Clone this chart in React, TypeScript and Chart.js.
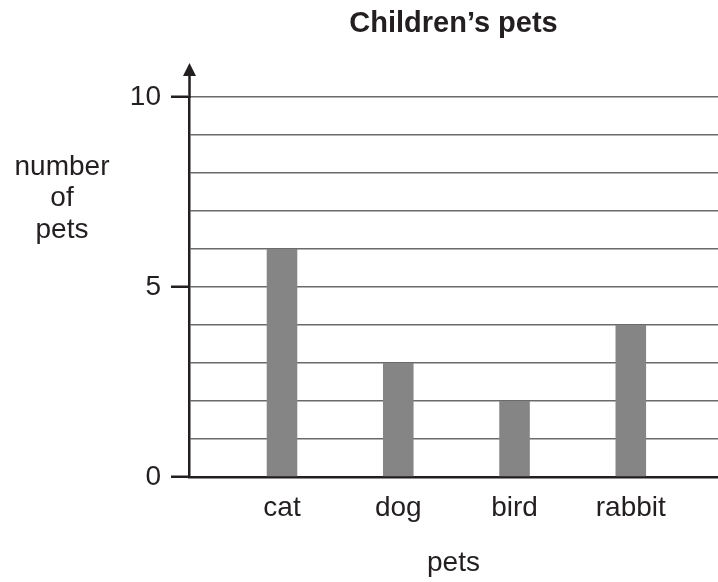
import React, { useEffect, useRef } from "react";
import { Chart, registerables } from "chart.js";

Chart.register(...registerables);

const categories: string[] = ["cat", "dog", "bird", "rabbit"];
const petCounts: number[] = [6, 3, 2, 4];
const yLabelledTicks: number[] = [0, 5, 10];
const yTitleLines: string[] = ["number", "of", "pets"];
const chartTitle = "Children\u2019s pets";
const xTitle = "pets";

const FONT = "'Liberation Sans', Arial, Helvetica, sans-serif";
const INK = "#231f20";

export default function App() {
  const canvasRef = useRef<HTMLCanvasElement | null>(null);

  useEffect(() => {
    const canvas = canvasRef.current;
    if (!canvas) return;

    const decorations = {
      id: "decorations",
      afterDraw(chart: any) {
        const { ctx, chartArea } = chart;
        const yScale = chart.scales.y;
        const axisX = chartArea.left + 0.5;
        const top = yScale.getPixelForValue(10);
        ctx.save();
        // axis extension + arrow head
        ctx.strokeStyle = INK;
        ctx.lineWidth = 2.5;
        ctx.beginPath();
        ctx.moveTo(axisX, top + 1);
        ctx.lineTo(axisX, top - 24);
        ctx.stroke();
        ctx.fillStyle = INK;
        ctx.beginPath();
        ctx.moveTo(axisX, top - 34);
        ctx.lineTo(axisX - 6.5, top - 21);
        ctx.lineTo(axisX + 6.5, top - 21);
        ctx.closePath();
        ctx.fill();
        // horizontal y-axis title
        ctx.font = `28px ${FONT}`;
        ctx.textAlign = "center";
        ctx.textBaseline = "middle";
        yTitleLines.forEach((line, i) => {
          ctx.fillText(line, 62, top + 70 + i * 31.5);
        });
        ctx.restore();
      },
    };

    const chart = new Chart(canvas, {
      type: "bar",
      data: {
        datasets: [
          {
            data: petCounts.map((v, i) => ({ x: i, y: v })),
            backgroundColor: "#858585",
            borderWidth: 0,
            categoryPercentage: 1,
            barPercentage: 0.263,
          },
        ],
      },
      options: {
        responsive: false,
        animation: false,
        devicePixelRatio: 1,
        layout: { padding: 0 },
        plugins: {
          legend: { display: false },
          tooltip: { enabled: false },
          title: {
            display: true,
            text: chartTitle,
            fullSize: false,
            color: INK,
            font: { family: FONT, size: 29, weight: "bold" },
            padding: { top: 6.5, bottom: 55.7 },
          },
        },
        scales: {
          x: {
            type: "linear",
            min: -0.8,
            max: 3.75,
            offset: false,
            afterBuildTicks: (scale: any) => {
              scale.ticks = categories.map((_, i) => ({ value: i }));
            },
            afterFit: (scale: any) => {
              scale.height = 105;
            },
            grid: { display: false, drawTicks: false },
            border: { display: true, color: INK, width: 2.5 },
            ticks: {
              autoSkip: false,
              maxRotation: 0,
              padding: 14,
              color: INK,
              font: { family: FONT, size: 28 },
              callback: (value: any) => categories[value as number] ?? "",
            },
            title: {
              display: true,
              text: xTitle,
              color: INK,
              font: { family: FONT, size: 28 },
              padding: { top: 0, bottom: 2 },
            },
          },
          y: {
            min: 0,
            max: 10,
            afterFit: (scale: any) => {
              scale.width = 189;
            },
            grid: {
              color: "#6a6a6a",
              lineWidth: 1.5,
              drawTicks: true,
              tickLength: 18,
              tickWidth: 2.5,
              tickColor: (ctx: any) =>
                yLabelledTicks.includes(ctx.tick?.value) ? INK : "rgba(0,0,0,0)",
            },
            border: { display: true, color: INK, width: 2.5 },
            ticks: {
              stepSize: 1,
              autoSkip: false,
              padding: 10,
              color: INK,
              font: { family: FONT, size: 28 },
              callback: (value: any) =>
                yLabelledTicks.includes(value as number) ? String(value) : "",
            },
          },
        },
      },
      plugins: [decorations],
    } as any);

    return () => chart.destroy();
  }, []);

  return (
    <div style={{ position: "absolute", left: 0, top: 0, width: 718, height: 582, background: "#fff" }}>
      <canvas ref={canvasRef} width={718} height={582} style={{ display: "block" }} />
    </div>
  );
}
